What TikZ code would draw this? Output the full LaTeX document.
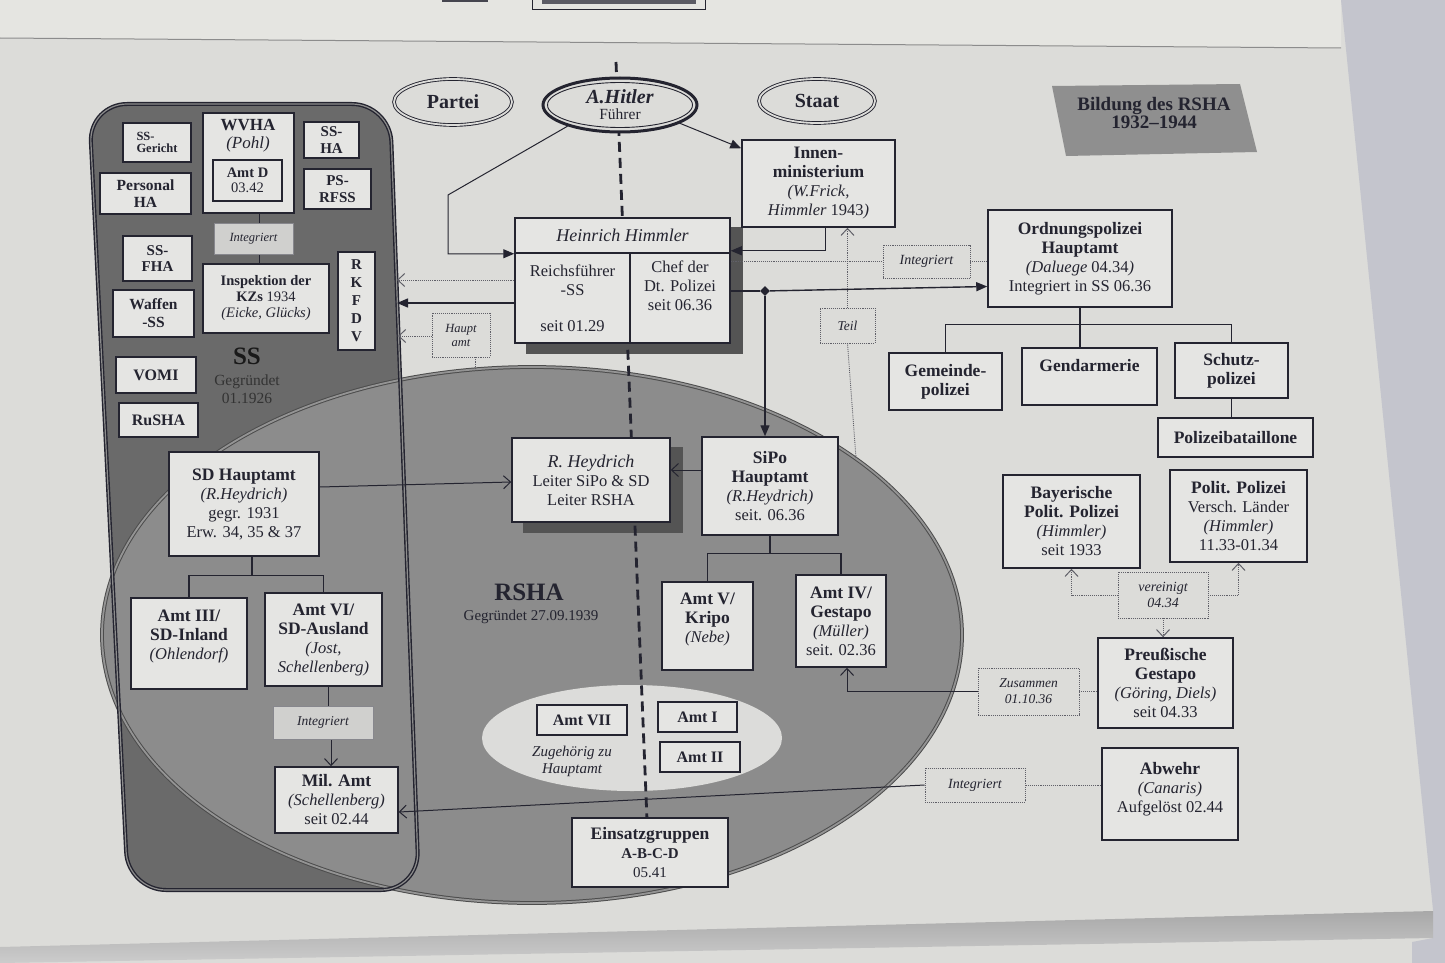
\documentclass[tikz,border=0pt]{standalone}
\usepackage{fontspec}
\setmainfont{Liberation Serif}
\usetikzlibrary{arrows.meta,shapes.geometric,calc}
\pgfdeclarelayer{bg}
\pgfdeclarelayer{lines}
\pgfsetlayers{bg,lines,main}
\definecolor{paper}{RGB}{220,220,217}
\definecolor{boxfill}{RGB}{229,229,227}
\definecolor{ink}{RGB}{36,36,48}
\definecolor{ssgrey}{RGB}{106,106,106}
\definecolor{rshagrey}{RGB}{140,140,140}
\definecolor{shadowgrey}{RGB}{84,84,84}
\definecolor{titlegrey}{RGB}{143,143,143}
\definecolor{lightell}{RGB}{220,220,218}
\definecolor{dotgrey}{RGB}{96,96,104}
\definecolor{intfill}{RGB}{208,208,206}
\definecolor{cloth}{RGB}{196,197,205}
\definecolor{upperpage}{RGB}{229,229,225}
\newcommand{\hdr}[1]{{\fontsize{17.5}{19}\selectfont\bfseries #1}}
\tikzset{
  orgbox/.style={draw=ink, line width=1.5pt, fill=boxfill, align=center, inner sep=1pt, text=ink,
    font=\fontsize{16.5}{19}\selectfont},
  ssbox/.style={orgbox, font=\bfseries\fontsize{15}{16.5}\selectfont},
  dotbox/.style={draw=dotgrey, line width=0.9pt, densely dotted, fill=paper, align=center, inner sep=1pt, text=ink,
    font=\itshape\fontsize{14}{16.5}\selectfont},
  intbox/.style={draw=ink!55, line width=0.7pt, fill=intfill, align=center, inner sep=1pt, text=ink,
    font=\itshape\fontsize{13}{15}\selectfont},
  amtbox/.style={orgbox, font=\bfseries\fontsize{16}{18}\selectfont},
  lbl/.style={text=ink, align=center, inner sep=0pt},
  conn/.style={draw=ink, line width=1pt},
  treeconn/.style={draw=ink, line width=1.2pt},
  heavyconn/.style={draw=ink, line width=1.4pt},
  dotconn/.style={draw=dotgrey, line width=0.9pt, densely dotted},
  openarr/.style={-{Straight Barb[length=7pt,width=13pt,line width=1pt]}},
  fillarr/.style={-{Triangle[length=11pt,width=9pt]}},
  partyell/.style={ellipse, draw=ink, line width=0.9pt, double=paper, double distance=1.8pt, fill=paper,
    inner sep=0pt, text=ink, align=center},
}
\begin{document}
\begin{tikzpicture}[x=1pt,y=-1pt]
\useasboundingbox (0,0) rectangle (1445,963);

% ---------- top ellipses ----------
\node[partyell, minimum width=118pt, minimum height=46pt, font=\bfseries\fontsize{20}{22}\selectfont] (partei) at (453,102) {Partei};
\node[ellipse, draw=ink, line width=3pt, fill=paper, minimum width=154pt, minimum height=54pt, inner sep=0pt,
  align=center, text=ink, font=\fontsize{15.5}{16}\selectfont] (hitler) at (620,105)
  {{\fontsize{20}{20}\selectfont\bfseries\itshape A.Hitler}\\Führer};
\draw[ink, line width=0.9pt] (hitler.center) ellipse [x radius=72.5, y radius=22.5];
\node[partyell, minimum width=116pt, minimum height=44pt, font=\bfseries\fontsize{20}{22}\selectfont] (staat) at (817,101) {Staat};

\node[lbl, font=\bfseries\fontsize{19}{18}\selectfont] (title) at (1154,113) {Bildung des RSHA\\1932–1944};

% ---------- centre ----------
\node[orgbox, minimum width=153pt, minimum height=87pt] (innen) at (818.5,183.5)
  {\hdr{Innen-}\\\hdr{ministerium}\\\textit{(W.Frick,}\\\textit{Himmler} 1943\textit{)}};
\node[orgbox, minimum width=215pt, minimum height=35pt, font=\itshape\fontsize{18}{20}\selectfont] (himT) at (622.5,235.5) {Heinrich Himmler};
\node[orgbox, minimum width=115pt, minimum height=90pt] (himL) at (572.5,298) {Reichsführer\\-SS\\[17pt]seit 01.29};
\node[orgbox, minimum width=100pt, minimum height=90pt] (himR) at (680,298) {Chef der\\Dt. Polizei\\seit 06.36\\[6pt]\mbox{}};

\node[dotbox, minimum width=58pt, minimum height=44pt, font=\itshape\fontsize{12.5}{14}\selectfont] (hauptamt) at (461,335) {Haupt\\amt};
\node[dotbox, minimum width=55pt, minimum height=35pt, font=\itshape\fontsize{13.5}{15}\selectfont] (teil) at (847.5,325.5) {Teil};

\node[orgbox, minimum width=158pt, minimum height=84pt] (heydrich) at (591,480)
  {{\itshape\fontsize{18}{19}\selectfont R. Heydrich}\\Leiter SiPo \& SD\\Leiter RSHA};
\node[orgbox, minimum width=136pt, minimum height=98pt] (sipo) at (770,486)
  {\hdr{SiPo}\\\hdr{Hauptamt}\\\textit{(R.Heydrich)}\\seit. 06.36};
\node[orgbox, minimum width=91pt, minimum height=88pt] (amt5) at (707.5,626)
  {\hdr{Amt V/}\\\hdr{Kripo}\\\textit{(Nebe)}\\[-3pt]\mbox{}};
\node[orgbox, minimum width=90pt, minimum height=92pt] (amt4) at (841,621)
  {\hdr{Amt IV/}\\\hdr{Gestapo}\\\textit{(Müller)}\\seit. 02.36};

\node[lbl, font=\bfseries\fontsize{25}{26}\selectfont] (rshalbl) at (529,592) {RSHA};
\node[lbl, font=\fontsize{15}{17}\selectfont] (rshagr) at (531,617) {Gegründet 27.09.1939};

\node[amtbox, minimum width=90pt, minimum height=30pt] (amt7) at (582,720) {Amt VII};
\node[amtbox, minimum width=79pt, minimum height=30pt] (amt1) at (697.5,717) {Amt I};
\node[amtbox, minimum width=80pt, minimum height=30pt] (amt2) at (700,757) {Amt II};
\node[lbl, font=\itshape\fontsize{15}{17}\selectfont] (zug) at (572,761) {Zugehörig zu\\Hauptamt};

\node[orgbox, minimum width=156pt, minimum height=69pt] (einsatz) at (650,852.5)
  {\hdr{Einsatzgruppen}\\{\bfseries\fontsize{15}{16}\selectfont A-B-C-D}\\{\fontsize{15}{16}\selectfont 05.41}};

% ---------- right ----------
\node[orgbox, minimum width=184pt, minimum height=97pt] (orpo) at (1080,258.5)
  {\hdr{Ordnungspolizei}\\\hdr{Hauptamt}\\\textit{(Daluege} 04.34\textit{)}\\Integriert in SS 06.36};
\node[dotbox, minimum width=87pt, minimum height=33pt] (intOrpo) at (926.5,261.5) {Integriert};
\node[orgbox, minimum width=113pt, minimum height=57pt] (gemeinde) at (945.5,381.5) {\hdr{Gemeinde-}\\\hdr{polizei}};
\node[orgbox, minimum width=135pt, minimum height=57pt] (gendarm) at (1089.5,376.5) {\hdr{Gendarmerie}\\[4pt]\mbox{}};
\node[orgbox, minimum width=113pt, minimum height=55pt] (schutz) at (1231.5,370.5) {\hdr{Schutz-}\\\hdr{polizei}};
\node[orgbox, minimum width=155pt, minimum height=39pt] (polbat) at (1235.5,437.5) {\hdr{Polizeibataillone}};
\node[orgbox, minimum width=137pt, minimum height=93pt] (bayer) at (1071.5,521.5)
  {\hdr{Bayerische}\\\hdr{Polit. Polizei}\\\textit{(Himmler)}\\seit 1933};
\node[orgbox, minimum width=137pt, minimum height=92pt] (polpol) at (1238.5,516)
  {\hdr{Polit. Polizei}\\Versch. Länder\\\textit{(Himmler)}\\11.33-01.34};
\node[dotbox, minimum width=90pt, minimum height=46pt] (vereinigt) at (1163,595) {vereinigt\\04.34};
\node[orgbox, minimum width=135pt, minimum height=90pt] (preuss) at (1165.5,683)
  {\hdr{Preußische}\\\hdr{Gestapo}\\\textit{(Göring, Diels)}\\seit 04.33};
\node[dotbox, minimum width=101pt, minimum height=47pt, font=\itshape\fontsize{13.5}{16}\selectfont] (zusammen) at (1028.5,691.5) {Zusammen\\01.10.36};
\node[orgbox, minimum width=136pt, minimum height=92pt] (abwehr) at (1170,794)
  {\hdr{Abwehr}\\\textit{(Canaris)}\\Aufgelöst 02.44\\[-5pt]\mbox{}};
\node[dotbox, minimum width=100pt, minimum height=34pt] (intAbw) at (975,785) {Integriert};

% ---------- SS box contents ----------
\node[ssbox, minimum width=68pt, minimum height=39pt, align=left, font=\bfseries\fontsize{12.5}{12.5}\selectfont] (ssgericht) at (157,142.5) {SS-\\Gericht};
\node[orgbox, minimum width=91pt, minimum height=100pt] (wvha) at (248.5,163) {};
\node[lbl, font=\fontsize{17}{18}\selectfont] (wvhat) at (248,136) {\textbf{WVHA}\\\textit{(Pohl)}};
\node[orgbox, minimum width=69pt, minimum height=41pt, font=\fontsize{14.5}{15}\selectfont] (amtd) at (247.5,180.5) {\textbf{Amt D}\\03.42};
\node[ssbox, minimum width=55pt, minimum height=36pt] (ssha) at (331.5,140) {SS-\\HA};
\node[ssbox, minimum width=91pt, minimum height=41pt, font=\bfseries\fontsize{15.5}{16.5}\selectfont] (personal) at (145.5,193.5) {Personal\\HA};
\node[ssbox, minimum width=67pt, minimum height=40pt] (psrfss) at (337.5,189) {PS-\\RFSS};
\node[intbox, minimum width=79pt, minimum height=31pt, font=\itshape\fontsize{12.5}{14}\selectfont] (intSS) at (253.5,238.5) {Integriert};
\node[ssbox, minimum width=69pt, minimum height=45pt] (ssfha) at (157.5,258.5) {SS-\\FHA};
\node[orgbox, minimum width=126pt, minimum height=69pt, font=\fontsize{14.5}{16}\selectfont] (inspektion) at (266,298.5)
  {\textbf{Inspektion der}\\\textbf{KZs} 1934\\\textit{(Eicke, Glücks)}};
\node[ssbox, minimum width=37pt, minimum height=98pt, font=\bfseries\fontsize{15}{18}\selectfont] (rkfdv) at (356.5,301) {R\\K\\F\\D\\V};
\node[ssbox, minimum width=81pt, minimum height=47pt, font=\bfseries\fontsize{15.5}{18}\selectfont] (waffen) at (153.5,313.5) {Waffen\\-SS};
\node[lbl, text=black!90, font=\bfseries\fontsize{25}{26}\selectfont] (sslbl) at (247,356) {SS};
\node[lbl, text=black!80, font=\fontsize{15.5}{18.5}\selectfont] (ssgr) at (247,389) {Gegründet\\01.1926};
\node[ssbox, minimum width=80pt, minimum height=36pt, font=\bfseries\fontsize{16}{17}\selectfont] (vomi) at (156,375) {VOMI};
\node[ssbox, minimum width=79pt, minimum height=34pt, font=\bfseries\fontsize{16}{17}\selectfont] (rusha) at (158.5,420) {RuSHA};

\node[orgbox, minimum width=150pt, minimum height=104pt] (sdha) at (244,504)
  {\hdr{SD Hauptamt}\\\textit{(R.Heydrich)}\\gegr. 1931\\Erw. 34, 35 \& 37};
\node[orgbox, minimum width=116pt, minimum height=91pt] (amt3) at (189,643.5)
  {\hdr{Amt III/}\\\hdr{SD-Inland}\\\textit{(Ohlendorf)}\\[-2pt]\mbox{}};
\node[orgbox, minimum width=117pt, minimum height=93pt] (amt6) at (323.5,639.5)
  {\hdr{Amt VI/}\\\hdr{SD-Ausland}\\\textit{(Jost,}\\\textit{Schellenberg)}};
\node[intbox, minimum width=100pt, minimum height=33pt, font=\itshape\fontsize{13.5}{15}\selectfont] (intSD) at (323,722.5) {Integriert};
\node[orgbox, minimum width=123pt, minimum height=66pt] (milamt) at (336.5,800)
  {\hdr{Mil. Amt}\\\textit{(Schellenberg)}\\seit 02.44};

% ---------- background layer ----------
\begin{pgfonlayer}{bg}
  \fill[paper] (0,0) rectangle (1445,963);
  \fill[upperpage] (0,0) -- (1341,0) -- (1341,48) -- (0,38) -- cycle;
  \draw[black!45, line width=1pt] (0,38) -- (1341,48);
  \fill[ink!85] (442,-2) rectangle (488,2);
  \draw[ink, line width=1pt] (532,-2) rectangle (705,10);
  \fill[ink!75] (542,-2) rectangle (696,4);
  \fill[cloth] (1341,0) -- (1445,0) -- (1445,963) -- (1412,963) -- (1412,942) -- (1433,938) -- (1433,910) -- cycle;
  \shade[top color=black!34, bottom color=black!20] (0,947) -- (1433,911) -- (1433,938) -- (0,963) -- cycle;
  \fill[titlegrey] (1052,86) -- (1240,84) -- (1257,152) -- (1066,156) -- cycle;
  \fill[ssgrey, rounded corners=38pt] (89,104) -- (390,104) -- (419,890) -- (128,890) -- cycle;
  \node[ellipse, fill=rshagrey, draw=black!70, line width=1pt, double=black!42, double distance=1.8pt,
    minimum width=860pt, minimum height=536pt, inner sep=0pt] (rshaell) at (532,635) {};
  \draw[ink, line width=1.4pt, double=black!45, double distance=1.2pt, rounded corners=38pt]
    (89,104) -- (390,104) -- (419,890) -- (128,890) -- cycle;
  \node[ellipse, fill=lightell, minimum width=300pt, minimum height=106pt, inner sep=0pt] (subell) at (632,738) {};
  \fill[shadowgrey] ($(himT.north west)+(12,10)$) rectangle ($(himR.south east)+(12,10)$);
  \fill[shadowgrey] ($(heydrich.north west)+(12,10)$) rectangle ($(heydrich.south east)+(12,10)$);
\end{pgfonlayer}

% ---------- connectors ----------
\begin{pgfonlayer}{lines}
  \coordinate (dtop) at (616,62);
  \coordinate (dbot) at (650,893);
  \draw[ink, line width=2.8pt, dash pattern=on 10pt off 6pt] (dtop) -- (dbot);

  \coordinate (hbend) at (448,195);
  \draw[conn, fillarr] (hitler.202) -- (hbend) |- (himT.south west);
  \draw[conn, fillarr] (hitler.-17) -- ([yshift=-9pt]innen.north west);
  \draw[conn, fillarr] ([xshift=7pt]innen.south) |- ([yshift=3pt]himT.south east);

  \coordinate (ssA) at (397,280);
  \coordinate (ssB) at (397,303);
  \coordinate (ssC) at (398,336);
  \draw[dotconn, openarr] (himL.west |- ssA) -- (ssA);
  \draw[heavyconn, fillarr] (himL.west |- ssB) -- (ssB);
  \draw[dotconn, openarr] (hauptamt.west |- ssC) -- (ssC);
  \coordinate (rtop) at (475,369);
  \draw[dotconn] (rtop) -- (rtop |- hauptamt.south);

  \draw[dotconn] (himR.east |- intOrpo.west) -- (intOrpo.west);
  \draw[dotconn] (intOrpo.east) -- (intOrpo.east -| orpo.west);
  \node[diamond, fill=ink, inner sep=0pt, minimum size=10pt] (dia) at (765,291) {};
  \draw[heavyconn] ([yshift=7pt]himR.east) -- (dia);
  \draw[heavyconn, fillarr] (dia) -- ([yshift=-28pt]orpo.west);
  \draw[heavyconn, fillarr] (dia) -- (dia |- sipo.north);

  \draw[dotconn, openarr] (teil.north) -- (teil.north |- innen.south);
  \coordinate (tend) at (856,458);
  \draw[dotconn] (teil.south) -- (tend);

  \draw[treeconn] (orpo.south) -- (orpo.south |- gendarm.north);
  \coordinate (obar) at ($(orpo.south)+(0,17)$);
  \draw[treeconn] (gemeinde.north) |- (obar) -| (schutz.north);
  \draw[treeconn] (schutz.south) -- (schutz.south |- polbat.north);

  \draw[dotconn, openarr] (vereinigt.west) -| (bayer.south);
  \draw[dotconn, openarr] (vereinigt.east) -| (polpol.south);
  \draw[dotconn, openarr] (vereinigt.south) -- (vereinigt.south |- preuss.north);

  \draw[dotconn] (preuss.west |- zusammen.east) -- (zusammen.east);
  \draw[conn, openarr] (zusammen.west) -| ([xshift=6pt]amt4.south);

  \draw[dotconn] (abwehr.west |- intAbw.east) -- (intAbw.east);
  \draw[conn, openarr] (intAbw.west) -- ([yshift=-12pt]milamt.east);

  \draw[conn, openarr] ([yshift=17pt]sdha.east) -- ([yshift=-2pt]heydrich.west);
  \draw[conn, openarr] ([yshift=16pt]sipo.west) -- ([yshift=16pt]sipo.west -| heydrich.east);

  \coordinate (sbar) at ($(sipo.south)+(0,18)$);
  \draw[treeconn] (sipo.south) -- (sbar);
  \draw[treeconn] (amt5.north) |- (sbar) -| (amt4.north);

  \coordinate (dbar) at ($(sdha.south)+(8,19)$);
  \draw[treeconn] ([xshift=8pt]sdha.south) -- (dbar);
  \draw[treeconn] (amt3.north) |- (dbar) -| (amt6.north);

  \draw[conn] ([xshift=5pt]amt6.south) -- ([xshift=5pt]amt6.south |- intSD.north);
  \draw[conn, openarr] ([xshift=8pt]intSD.south) -- ([xshift=8pt]intSD.south |- milamt.north);

  \draw[conn] ([xshift=6pt]intSS.south) -- ([xshift=6pt]intSS.south |- inspektion.north);
  \draw[conn, openarr] ([xshift=6pt]intSS.north) -- ([xshift=6pt]intSS.north |- amtd.south);
\end{pgfonlayer}
\end{tikzpicture}
\end{document}
